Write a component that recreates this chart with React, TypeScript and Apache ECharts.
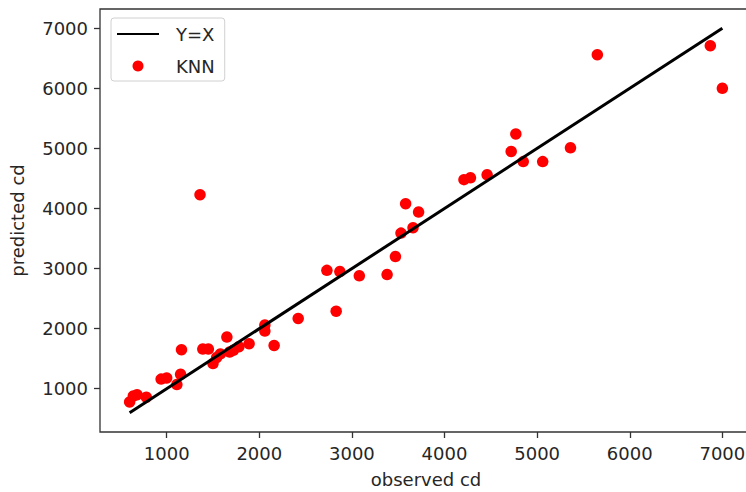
import React, { useEffect, useRef } from "react";
import * as echarts from "echarts";

const observed: number[] = [
  600, 640, 680, 780, 940, 1000, 1110, 1150, 1160, 1360, 1390, 1450, 1500, 1540,
  1580, 1650, 1680, 1720, 1780, 1890, 2060, 2060, 2160, 2420, 2730, 2830, 2870,
  3080, 3380, 3470, 3530, 3580, 3660, 3720, 4210, 4280, 4460, 4720, 4770, 4850,
  5060, 5360, 5650, 6870, 7000,
];
const predicted: number[] = [
  780, 880, 900, 860, 1160, 1180, 1070, 1240, 1650, 4230, 1660, 1660, 1420, 1520,
  1580, 1860, 1610, 1640, 1700, 1750, 2060, 1960, 1720, 2170, 2970, 2290, 2950,
  2880, 2900, 3200, 3590, 4080, 3680, 3940, 4480, 4510, 4560, 4950, 5240, 4780,
  4780, 5010, 6560, 6710, 6000,
];
const refLine: number[] = [600, 7000];
const tickValues: number[] = [1000, 2000, 3000, 4000, 5000, 6000, 7000];
const axisMin = 280;
const axisMax = 7320;

const FONT = "DejaVu Sans";
const TXT = "#262626";

export default function App() {
  const ref = useRef<HTMLDivElement>(null);
  useEffect(() => {
    document.body.style.margin = "0";
    if (!ref.current) return;
    const chart = echarts.init(ref.current, null, { renderer: "svg" });
    const axisCommon = {
      type: "value" as const,
      min: axisMin,
      max: axisMax,
      splitLine: { show: false },
      axisLine: { show: false },
      axisTick: {
        show: true,
        customValues: tickValues,
        length: 6,
        lineStyle: { color: "#333", width: 1.3 },
      },
      axisLabel: {
        customValues: tickValues,
        color: TXT,
        fontFamily: FONT,
        fontSize: 18,
        margin: 12,
        formatter: (v: number) => String(v),
      },
      nameLocation: "middle" as const,
      nameTextStyle: { color: TXT, fontFamily: FONT, fontSize: 18 },
    };
    chart.setOption({
      animation: false,
      grid: {
        left: 100,
        top: 9,
        width: 652,
        height: 423,
        outerBoundsMode: "none",
        containLabel: false,
        show: true,
        borderColor: "#333",
        borderWidth: 1.3,
        backgroundColor: "transparent",
      },
      legend: {
        orient: "vertical",
        left: 111,
        top: 18,
        data: [
          { name: "Y=X", itemStyle: { opacity: 0 } },
          { name: "KNN" },
        ],
        itemWidth: 42,
        itemHeight: 11,
        itemGap: 14,
        padding: [7, 10, 6, 5],
        borderColor: "#d0d0d0",
        borderWidth: 1,
        borderRadius: 3,
        backgroundColor: "#fff",
        textStyle: {
          color: TXT,
          fontFamily: FONT,
          fontSize: 18,
          padding: [0, 0, 0, 12],
        },
      },
      xAxis: {
        ...axisCommon,
        name: "observed cd",
        nameGap: 38,
      },
      yAxis: {
        ...axisCommon,
        name: "predicted cd",
        nameGap: 74,
        nameRotate: 90,
      },
      series: [
        {
          name: "KNN",
          type: "scatter",
          symbol: "circle",
          symbolSize: 11.5,
          itemStyle: { color: "#ff0000", opacity: 1 },
          data: observed.map((x, i) => [x, predicted[i]]),
          z: 2,
        },
        {
          name: "Y=X",
          type: "line",
          symbol: "none",
          showSymbol: false,
          lineStyle: { color: "#000", width: 3 },
          itemStyle: { color: "#000" },
          data: refLine.map((v) => [v, v]),
          z: 3,
        },
      ],
    });
    return () => chart.dispose();
  }, []);
  return <div ref={ref} style={{ width: 746, height: 492 }} />;
}
